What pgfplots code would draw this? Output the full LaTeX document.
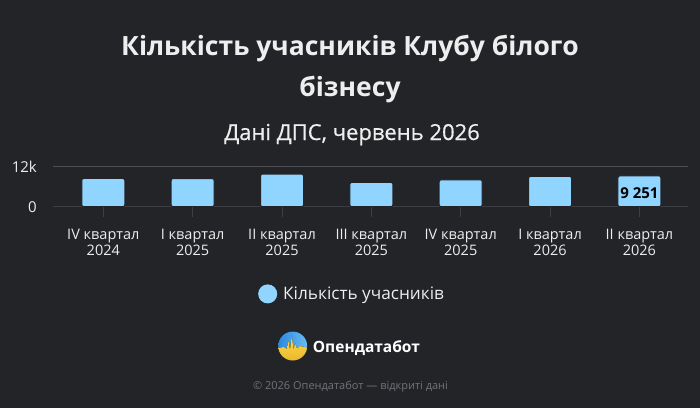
\documentclass[border=0pt]{standalone}
\usepackage{pgfplots}
\pgfplotsset{compat=1.18}
\usepackage{fontspec}
\setmainfont{Open Sans}
\newfontface\subfont{Open Sans}[FakeBold=0.6]
\definecolor{bgc}{HTML}{222428}
\definecolor{titlecol}{HTML}{EEEEEE}
\definecolor{labelcol}{HTML}{EDEDED}
\definecolor{gridcol}{HTML}{4E5055}
\definecolor{basecol}{HTML}{3C3E43}
\definecolor{barcol}{HTML}{90D5FF}
\definecolor{footcol}{HTML}{707378}
\definecolor{logoblueA}{HTML}{2A86DE}
\definecolor{logoblueB}{HTML}{6CC0F5}
\definecolor{logoyelA}{HTML}{F8DA55}
\definecolor{logoyelB}{HTML}{EDB526}
\begin{document}
\begin{tikzpicture}
% page background, 700 x 408
\fill[bgc] (0bp,0bp) rectangle (700bp,-408bp);
\useasboundingbox (0bp,0bp) rectangle (700bp,-408bp);

% titles
\node[anchor=base, text=titlecol, font=\bfseries\fontsize{26.5bp}{30bp}\selectfont]
  at (350bp,-55bp) {Кількість учасників Клубу білого};
\node[anchor=base, text=titlecol, font=\bfseries\fontsize{26.5bp}{30bp}\selectfont]
  at (350bp,-96.7bp) {бізнесу};
\node[anchor=base, text=titlecol, font=\subfont\fontsize{22bp}{26bp}\selectfont]
  at (352bp,-140bp) {Дані ДПС, червень 2026};

\begin{axis}[
  at={(53.3bp,-206.7bp)}, anchor=south west,
  width=635bp, height=40bp, scale only axis,
  xmin=-0.5596, xmax=6.547, ymin=0, ymax=12000,
  ybar, bar width=43bp,
  axis lines*=left,
  y axis line style={draw=none},
  x axis line style={draw=basecol, line width=1bp},
  scaled y ticks=false,
  ytick={0,12000}, yticklabels={0,12k},
  ytick style={draw=none},
  ymajorgrids, major grid style={draw=gridcol, line width=1bp},
  xtick={0,...,6},
  xticklabels={{IV квартал\\2024},{I квартал\\2025},{II квартал\\2025},
    {III квартал\\2025},{IV квартал\\2025},{I квартал\\2026},{II квартал\\2026}},
  tick align=outside, major tick length=10bp,
  xtick style={draw=basecol, line width=1bp},
  xticklabel style={align=center, text=labelcol, yshift=-9bp,
    font=\fontsize{14.5bp}{15.7bp}\selectfont},
  yticklabel style={text=labelcol, xshift=-3bp, font=\fontsize{15bp}{16bp}\selectfont},
  /pgf/number format/assume math mode=true,
  /pgf/number format/1000 sep={\ },
  nodes near coords={\ifnum\coordindex=6 \pgfmathprintnumber{\pgfplotspointmeta}\fi},
  every node near coord/.append style={anchor=center, yshift=-17.5bp,
    text=black, font=\bfseries\fontsize{15bp}{16bp}\selectfont},
  legend style={at={(0.4705,-2.18)}, anchor=center, draw=none, fill=none,
    text=labelcol, font=\fontsize{17.2bp}{20bp}\selectfont,
    /tikz/every odd column/.append style={column sep=4bp}},
]
\addplot[fill=barcol, draw=bgc, line width=1bp, rounded corners=2bp,
  legend image code/.code={\fill[barcol] (0bp,0bp) circle (9bp);}]
  coordinates {
  (0,8480) (1,8450) (2,9790) (3,7310) (4,8080) (5,9090) (6,9251)
};
\addlegendentry{Кількість учасників}
\end{axis}

% brand logo
\begin{scope}
\clip (292.7bp,-346bp) circle (14.5bp);
\fill[left color=logoblueA, right color=logoblueB] (277bp,-330bp) rectangle (309bp,-362bp);
\fill[top color=logoyelA, bottom color=logoyelB]
  (277bp,-348bp) -- (284bp,-347bp) -- (286.5bp,-349bp) -- (288.5bp,-341bp)
  -- (290bp,-350bp) -- (291.8bp,-335bp) -- (293.5bp,-350bp) -- (295bp,-343bp)
  -- (297bp,-348.5bp) -- (300bp,-346bp) -- (309bp,-348bp) -- (309bp,-362bp)
  -- (277bp,-362bp) -- cycle;
\end{scope}
\node[anchor=base west, inner sep=0pt, text=white, font=\bfseries\fontsize{15.5bp}{18bp}\selectfont]
  at (312.7bp,-352.3bp) {Опендатабот};

% footer
\node[anchor=center, text=footcol, font=\fontsize{11bp}{13bp}\selectfont]
  at (350.5bp,-386.7bp) {© 2026 Опендатабот — відкриті дані};
\end{tikzpicture}
\end{document}
